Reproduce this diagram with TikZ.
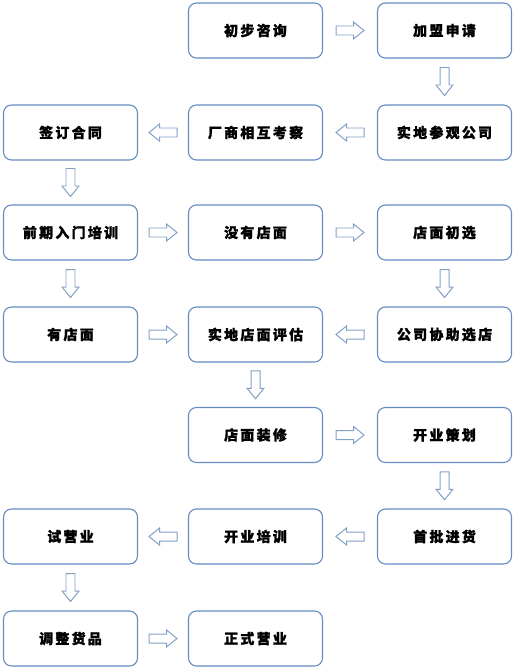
\documentclass[tikz,border=0pt]{standalone}
\usepackage{fontspec}
\usetikzlibrary{calc}
\newfontfamily\cjk{Noto Sans CJK SC}[LetterSpace=16, BoldFeatures={FakeBold=1.2}]
\definecolor{boxline}{RGB}{100,140,195}
\definecolor{arrline}{RGB}{130,160,200}
\tikzset{
  stepbox/.style={draw=boxline, line width=1.1pt, rounded corners=8pt, minimum width=134bp, minimum height=55bp, inner sep=0pt, font=\cjk\bfseries\fontsize{14bp}{16bp}\selectfont, text=black},
  blockarrow/.style={draw=arrline, fill=white, line width=1pt, line join=miter},
}
\newcommand\blockarr[2]{%
  \begin{scope}[shift={(#1)}, rotate=#2]
    \draw[blockarrow] (-14,-4.5) -- (3.5,-4.5) -- (3.5,-8.5) -- (14,0) -- (3.5,8.5) -- (3.5,4.5) -- (-14,4.5) -- cycle;
  \end{scope}}
\begin{document}
\begin{tikzpicture}[x=1bp,y=-1bp]
\useasboundingbox (0,0) rectangle (514,670);
\node[stepbox] (chubu)   at (255.5,30.5)  {初步咨询};
\node[stepbox] (jiameng) at (444.5,30.5)  {加盟申请};
\node[stepbox] (canguan) at (444.5,132.5) {实地参观公司};
\node[stepbox] (kaocha)  at (255.5,132.5) {厂商相互考察};
\node[stepbox] (qianding) at (70.5,132.5) {签订合同};
\node[stepbox] (peixun1) at (70.5,232.5)  {前期入门培训};
\node[stepbox] (meiyou)  at (255.5,232.5) {没有店面};
\node[stepbox] (chuxuan) at (444.5,232.5) {店面初选};
\node[stepbox] (youdian) at (70.5,334.5)  {有店面};
\node[stepbox] (pinggu)  at (255.5,334.5) {实地店面评估};
\node[stepbox] (xiezhu)  at (444.5,334.5) {公司协助选店};
\node[stepbox] (zhuangxiu) at (255.5,435) {店面装修};
\node[stepbox] (cehua)   at (444.5,435)   {开业策划};
\node[stepbox] (shiying) at (70.5,536.5)  {试营业};
\node[stepbox] (peixun2) at (255.5,536.5) {开业培训};
\node[stepbox] (jinhuo)  at (444.5,536.5) {首批进货};
\node[stepbox] (tiaozheng) at (70.5,638.5) {调整货品};
\node[stepbox] (zhengshi) at (255.5,638.5) {正式营业};
% block arrow positions
\coordinate (a1)  at ($(chubu.east)!0.5!(jiameng.west)$);
\coordinate (a2)  at ($(jiameng.south)!0.5!(canguan.north)$);
\coordinate (a3)  at ($(canguan.west)!0.5!(kaocha.east)$);
\coordinate (a4)  at ($(kaocha.west)!0.5!(qianding.east)$);
\coordinate (a5)  at ($(qianding.south)!0.5!(peixun1.north)$);
\coordinate (a6)  at ($(peixun1.east)!0.5!(meiyou.west)$);
\coordinate (a7)  at ($(meiyou.east)!0.5!(chuxuan.west)$);
\coordinate (a8)  at ($(chuxuan.south)!0.5!(xiezhu.north)$);
\coordinate (a9)  at ($(peixun1.south)!0.5!(youdian.north)$);
\coordinate (a10) at ($(youdian.east)!0.5!(pinggu.west)$);
\coordinate (a11) at ($(xiezhu.west)!0.5!(pinggu.east)$);
\coordinate (a12) at ($(pinggu.south)!0.5!(zhuangxiu.north)$);
\coordinate (a13) at ($(zhuangxiu.east)!0.5!(cehua.west)$);
\coordinate (a14) at ($(cehua.south)!0.5!(jinhuo.north)$);
\coordinate (a15) at ($(jinhuo.west)!0.5!(peixun2.east)$);
\coordinate (a16) at ($(peixun2.west)!0.5!(shiying.east)$);
\coordinate (a17) at ($(shiying.south)!0.5!(tiaozheng.north)$);
\coordinate (a18) at ($(tiaozheng.east)!0.5!(zhengshi.west)$);
\blockarr{a1}{0}
\blockarr{a2}{-90}
\blockarr{a3}{180}
\blockarr{a4}{180}
\blockarr{a5}{-90}
\blockarr{a6}{0}
\blockarr{a7}{0}
\blockarr{a8}{-90}
\blockarr{a9}{-90}
\blockarr{a10}{0}
\blockarr{a11}{180}
\blockarr{a12}{-90}
\blockarr{a13}{0}
\blockarr{a14}{-90}
\blockarr{a15}{180}
\blockarr{a16}{180}
\blockarr{a17}{-90}
\blockarr{a18}{0}
\end{tikzpicture}
\end{document}
